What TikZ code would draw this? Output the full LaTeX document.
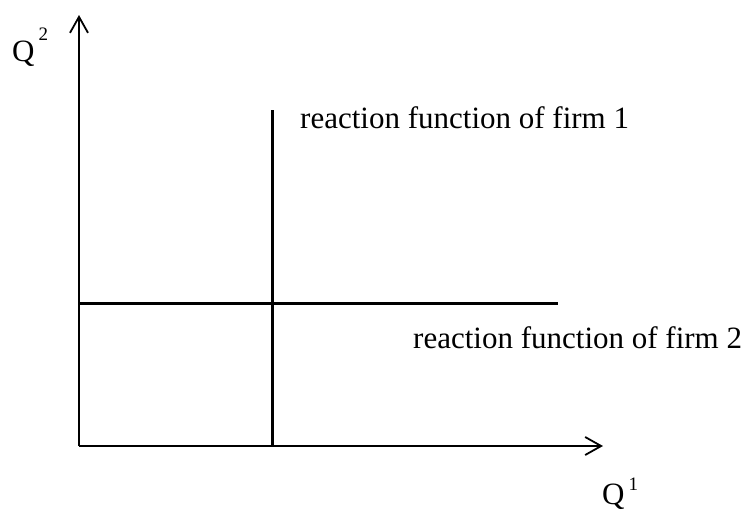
\documentclass[tikz,border=0pt]{standalone}
\usepackage{fontspec}
\setmainfont{Liberation Serif}
\usepackage{tikz}
\usetikzlibrary{arrows.meta}

\begin{document}
\begin{tikzpicture}[
    x=1pt, y=-1pt,
    axis/.style={line width=1.8pt, -{Straight Barb[length=16pt, width=18pt, line width=1.8pt]}},
    rf/.style={line width=3pt},
    lbl/.style={anchor=base west, inner sep=0pt, font=\fontsize{31}{36}\selectfont}
]
\useasboundingbox (0,0) rectangle (748,512);

\coordinate (orig) at (79,446);
\coordinate (ytop) at (79,15);
\coordinate (xend) at (603,446);
\coordinate (rf1top) at (272,110);
\coordinate (rf1bot) at (272,446);
\coordinate (rf2left) at (79,303);
\coordinate (rf2right) at (558,303);

% axes
\draw[axis] (orig) -- (ytop);
\draw[axis] (orig) -- (xend);

% reaction functions
\draw[rf] (rf1top) -- (rf1bot);
\draw[rf] (rf2left) -- (rf2right);

\node[lbl] (qtwo) at (12,61) {Q\hspace{4pt}\raisebox{21pt}{\fontsize{19}{21}\selectfont 2}};
\node[lbl] (qone) at (602,504) {Q\hspace{4pt}\raisebox{14pt}{\fontsize{19}{21}\selectfont 1}};
\node[lbl] (rf1lbl) at (300,128) {reaction function of firm 1};
\node[lbl] (rf2lbl) at (413,348) {reaction function of firm 2};
\end{tikzpicture}
\end{document}
